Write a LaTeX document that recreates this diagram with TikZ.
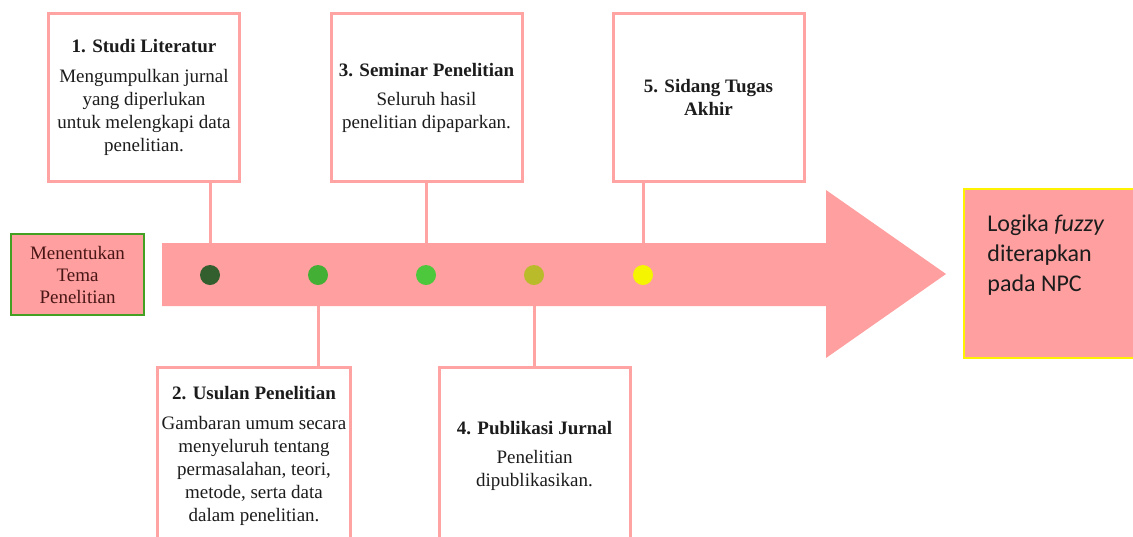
\documentclass[tikz,border=0pt]{standalone}
\usepackage{fontspec}
\setmainfont{Liberation Serif}
\newfontfamily\calibri{Carlito}
\usetikzlibrary{positioning,backgrounds}
\definecolor{band}{HTML}{FF9F9F}
\definecolor{frame}{HTML}{FFA3A3}
\definecolor{start}{HTML}{44A022}
\definecolor{goal}{HTML}{FFF200}
\definecolor{ink}{HTML}{1C1C1C}
\definecolor{dotA}{HTML}{335E2E}
\definecolor{dotB}{HTML}{43AF35}
\definecolor{dotC}{HTML}{4DC83D}
\definecolor{dotD}{HTML}{BABB2A}
\definecolor{dotE}{HTML}{F5F500}

\begin{document}
\begin{tikzpicture}[
  x=0.5pt, y=-0.5pt,
  stepbox/.style={draw=frame, line width=1.5pt, fill=white, align=center, text=ink,
    minimum width=95.5pt, minimum height=84pt, inner sep=2pt,
    font=\fontsize{9.5}{11.5}\selectfont},
  stem/.style={draw=frame, line width=1.5pt},
  dot/.style={circle, inner sep=0pt, minimum size=10pt},
  startbox/.style={draw=start, line width=1pt, fill=band, align=center, text=ink!80!red,
    minimum width=66.5pt, minimum height=40.5pt, inner sep=1pt,
    font=\fontsize{9.5}{11}\selectfont},
  goalbox/.style={draw=goal, line width=1pt, fill=band, minimum width=88pt, minimum height=84.5pt}
]
\useasboundingbox (0,0) rectangle (1133,536);
\clip (0,0) rectangle (1133,536);

\node[stepbox] (studi) at (144,97.5) {
  \textbf{1. Studi Literatur}\\[3.5pt]
  Mengumpulkan jurnal\\
  yang diperlukan\\
  untuk melengkapi data\\
  penelitian.
};

\node[stepbox] (seminar) at (426.5,97.5) {
  \textbf{3. Seminar Penelitian}\\[3pt]
  Seluruh hasil\\
  penelitian dipaparkan.
};

\node[stepbox] (sidang) at (708.5,97.5) {
  \textbf{5. Sidang Tugas}\\
  \textbf{Akhir}
};

\node[stepbox,minimum height=89pt] (usulan) at (254,456) {
  \textbf{2. Usulan Penelitian}\\[3.5pt]
  Gambaran umum secara\\
  menyeluruh tentang\\
  permasalahan, teori,\\
  metode, serta data\\
  dalam penelitian.
};

\node[stepbox,minimum height=89pt] (publikasi) at (534.5,456) {
  \textbf{4. Publikasi Jurnal}\\[3pt]
  Penelitian\\
  dipublikasikan.
};

\node[startbox] (tema) at (77.5,274.5) {Menentukan\\ Tema\\ Penelitian};

\node[goalbox] (npc) at (1052,273.5) {};
\node[anchor=north west, align=left, inner sep=0pt, text=ink,
  font=\calibri\fontsize{12}{15.2}\selectfont] (npctext) at (987,214)
  {Logika \textit{fuzzy}\\ diterapkan\\ pada NPC};

\foreach \x/\c [count=\i] in {210/dotA,318/dotB,426/dotC,534/dotD,643/dotE}
  \node[dot,fill=\c] (d\i) at (\x,275) {};

\begin{scope}[on background layer]
  \draw[stem] (d1.center) -- (d1 |- studi.south);
  \draw[stem] (d2.center) -- (d2 |- usulan.north);
  \draw[stem] (d3.center) -- (d3 |- seminar.south);
  \draw[stem] (d4.center) -- (d4 |- publikasi.north);
  \draw[stem] (d5.center) -- (d5 |- sidang.south);
  % timeline arrow
  \fill[band] (162,243) -- (826,243) -- (826,190) -- (946,274)
    -- (826,358) -- (826,306) -- (162,306) -- cycle;
\end{scope}

\end{tikzpicture}
\end{document}
